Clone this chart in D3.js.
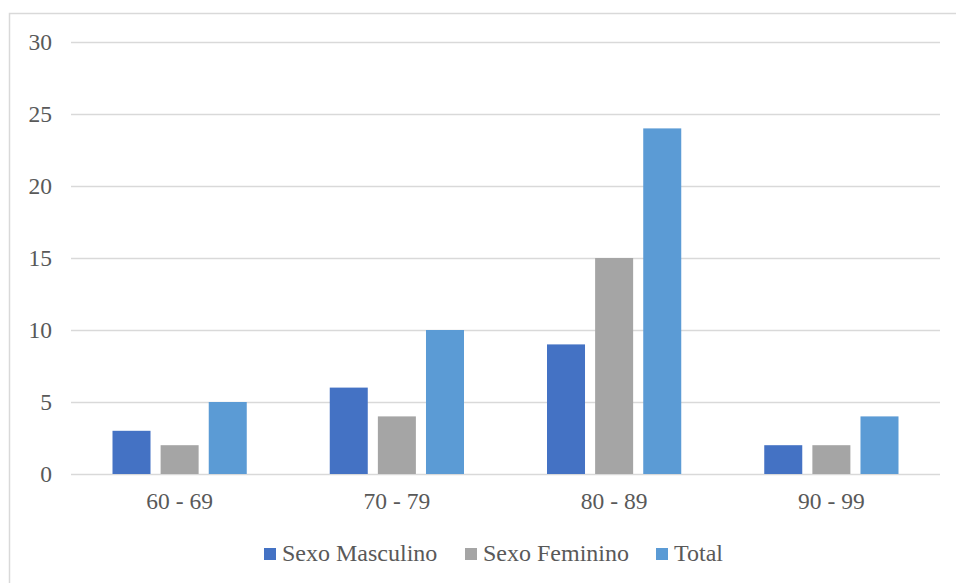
<!DOCTYPE html>
<html>
<head>
<meta charset="utf-8">
<script src="https://cdn.jsdelivr.net/npm/d3@7"></script>
<style>
  html, body { margin: 0; padding: 0; background: #fff; }
  svg { display: block; }
  text { font-family: "Liberation Serif", "Times New Roman", serif; fill: #595959; }
</style>
</head>
<body>
<div id="chart"></div>
<script>
// Age groups and counts by sex
const categories = ["60 - 69", "70 - 79", "80 - 89", "90 - 99"];
const seriesNames = ["Sexo Masculino", "Sexo Feminino", "Total"];
const masculino = [3, 6, 9, 2];
const feminino = [2, 4, 15, 2];
const total = [5, 10, 24, 4];
const yTicks = [0, 5, 10, 15, 20, 25, 30];
const colors = ["#4472C4", "#A5A5A5", "#5B9BD5"];

const seriesValues = [masculino, feminino, total];

const W = 956, H = 583;
const plot = { left: 71, right: 940, top: 42, bottom: 474 };
const serif = '"Liberation Serif", "Times New Roman", serif';

const svg = d3.select("#chart").append("svg")
  .attr("width", W).attr("height", H);

// Chart frame (top and left edges visible)
svg.append("rect")
  .attr("x", 9.5).attr("y", 13.5)
  .attr("width", W + 20).attr("height", H + 20)
  .attr("fill", "none").attr("stroke", "#D9D9D9").attr("stroke-width", 1.5);

const x = d3.scaleBand().domain(categories).range([plot.left, plot.right]);
const groupPad = 41.5;
const xs = d3.scaleBand().domain(seriesNames)
  .range([groupPad, x.bandwidth() - groupPad])
  .paddingInner(0.21).paddingOuter(0);
const y = d3.scaleLinear().domain([0, 30]).range([plot.bottom, plot.top]);

// Gridlines and y-axis labels
const yAxis = d3.axisLeft(y).tickValues(yTicks)
  .tickSize(-(plot.right - plot.left)).tickPadding(19).tickFormat(d3.format("d"));
const gy = svg.append("g").attr("transform", `translate(${plot.left},0)`).call(yAxis);
gy.attr("font-family", null).attr("font-size", null);
gy.select(".domain").remove();
gy.selectAll(".tick line").attr("stroke", "#D9D9D9").attr("stroke-width", 1.5);
gy.selectAll(".tick text")
  .style("font-family", serif)
  .style("font-size", "23.5px").attr("fill", "#595959");

// Bars
const groups = svg.append("g").selectAll("g")
  .data(categories)
  .join("g")
  .attr("transform", d => `translate(${x(d)},0)`);

groups.selectAll("rect")
  .data((c, i) => seriesNames.map((s, k) => ({ s, k, v: seriesValues[k][i] })))
  .join("rect")
  .attr("x", d => xs(d.s))
  .attr("width", xs.bandwidth())
  .attr("y", d => y(d.v))
  .attr("height", d => y(0) - y(d.v))
  .attr("fill", d => colors[d.k]);

// Category labels
const xAxis = d3.axisBottom(x).tickSize(0).tickPadding(18);
const gx = svg.append("g").attr("transform", `translate(0,${plot.bottom})`).call(xAxis);
gx.attr("font-family", null).attr("font-size", null);
gx.select(".domain").remove();
gx.selectAll(".tick text")
  .style("font-family", serif)
  .style("font-size", "23.5px").attr("fill", "#595959");

// Legend
const legendX = [264, 465, 656];
const legend = svg.append("g").selectAll("g")
  .data(seriesNames)
  .join("g")
  .attr("transform", (d, i) => `translate(${legendX[i]},548)`);
legend.append("rect").attr("width", 12).attr("height", 12)
  .attr("fill", (d, i) => colors[i]);
legend.append("text").attr("x", 18).attr("y", 13)
  .style("font-family", serif)
  .style("font-size", "24px").text(d => d);
</script>
</body>
</html>
